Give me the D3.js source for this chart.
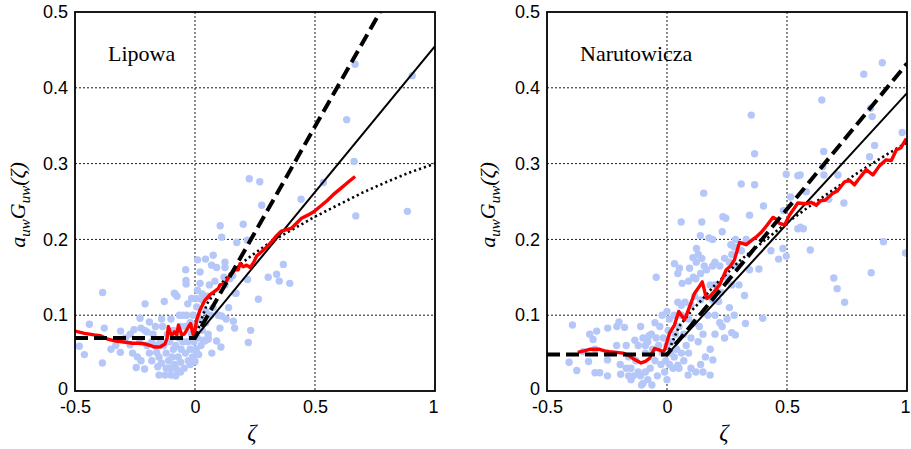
<!DOCTYPE html>
<html>
<head>
<meta charset="utf-8">
<script src="https://cdn.jsdelivr.net/npm/d3@7"></script>
<style>
  html, body { margin: 0; padding: 0; background: #fff; }
  svg { display: block; }
</style>
</head>
<body>
<svg id="chart" width="911" height="449"></svg>
<script>
// Axis ticks shared by both panels
const xTicks = [-0.5, 0, 0.5, 1];
const xTickLabels = ["-0.5", "0", "0.5", "1"];
const yTicks = [0, 0.1, 0.2, 0.3, 0.4, 0.5];
const yTickLabels = ["0", "0.1", "0.2", "0.3", "0.4", "0.5"];
const xGrid = [0, 0.5];
const yGrid = [0.1, 0.2, 0.3, 0.4];

// ---- Lipowa ----
const lipowaPoints = [
  [0.667,0.431],[0.905,0.416],[0.632,0.358],[0.663,0.303],[0.535,0.275],[0.226,0.280],[0.27,0.276],[0.278,0.245],
  [0.442,0.253],[0.67,0.231],[0.885,0.237],[0.105,0.218],[0.111,0.203],[0.201,0.220],[0.218,0.199],[0.174,0.196],
  [0.368,0.167],[0.305,0.150],[0.34,0.154],[0.351,0.145],[0.395,0.142],[0.219,0.147],[0.264,0.121],[0.168,0.129],
  [0.16,0.092],[0.165,0.083],[0.232,0.080],[0.222,0.064],[0.108,0.058],[0.09,0.066],[0.051,0.068],[0.104,0.083],[0.111,0.099],
  [0.011,0.173],[0.044,0.174],[0.076,0.179],[0.069,0.166],[0.09,0.163],[0.125,0.170],[0.125,0.163],[-0.039,0.160],
  [0.021,0.157],[-0.037,0.141],[0.021,0.142],[0.01,0.133],[0.03,0.128],[0.005,0.122],[-0.083,0.128],[-0.075,0.125],
  [-0.014,0.122],[0.007,0.111],[0.03,0.120],[0.053,0.125],[0.083,0.145],[0.121,0.150],[0.157,0.152],[0.171,0.129],
  [0.125,0.140],[0.145,0.148],[0.06,0.14],[0.097,0.1],[0.14,0.11],[0.075,0.11],[0.045,0.105],[0.13,0.095],
  [-0.385,0.130],[-0.44,0.088],[-0.378,0.083],[-0.482,0.059],[-0.461,0.048],[-0.386,0.037],[-0.31,0.079],[-0.311,0.051],
  [-0.271,0.061],[-0.254,0.081],[-0.229,0.096],[-0.208,0.115],[-0.225,0.083],[-0.21,0.08],[-0.2,0.078],[-0.19,0.091],
  [-0.24,0.045],[-0.225,0.04],[-0.245,0.031],[-0.21,0.029],[-0.18,0.04],[-0.17,0.06],[-0.16,0.051],[-0.15,0.045],
  [-0.14,0.037],[-0.155,0.032],[-0.15,0.021],[-0.125,0.021],[-0.1,0.021],[-0.128,0.118],[-0.086,0.129],[-0.0375,0.146],
  [-0.139,0.095],[-0.135,0.085],
  [-0.12,0.05],[-0.11,0.04],[-0.1,0.03],[-0.095,0.045],[-0.09,0.055],[-0.085,0.035],[-0.08,0.06],[-0.075,0.028],
  [-0.07,0.045],[-0.065,0.07],[-0.06,0.038],[-0.058,0.055],[-0.05,0.1],[-0.05,0.065],[-0.045,0.03],[-0.04,0.085],
  [-0.04,0.05],[-0.035,0.1],[-0.03,0.065],[-0.028,0.04],[-0.02,0.09],[-0.02,0.055],[-0.015,0.075],[-0.01,0.045],
  [-0.008,0.1],[-0.005,0.065],[0,0.039],[0,0.085],[0.005,0.055],[0.01,0.07],[0.015,0.048],[0.02,0.095],[0.025,0.06],
  [0.03,0.08],[0.035,0.067],[0.04,0.066],[0.045,0.09],[0.004,0.052],[0.055,0.075],[0.056,0.069],[0.065,0.1],[0.07,0.05],
  [-0.115,0.075],[-0.105,0.065],[-0.1,0.095],[-0.13,0.06],[-0.12,0.03],[-0.065,0.1],[-0.03,0.115],[-0.06,0.085],
  [-0.09,0.08],[-0.145,0.065],[-0.175,0.075],[-0.165,0.085],[-0.29,0.07],[-0.33,0.06],[-0.35,0.055],[-0.27,0.075],
  [-0.26,0.05],[-0.2,0.06],[-0.19,0.05],[-0.18,0.065],[-0.23,0.065],[-0.11,0.03],[-0.08,0.02],[-0.06,0.025],[-0.02,0.035]
];
const lipowaMean = [
  [-0.5,0.079],[-0.46,0.076],[-0.42,0.074],[-0.396,0.073],[-0.36,0.068],[-0.33,0.066],[-0.305,0.065],[-0.26,0.063],
  [-0.23,0.063],[-0.208,0.062],[-0.185,0.06],[-0.167,0.058],[-0.146,0.058],[-0.125,0.062],[-0.116,0.07],[-0.111,0.085],
  [-0.104,0.078],[-0.097,0.073],[-0.085,0.078],[-0.076,0.074],[-0.069,0.087],[-0.062,0.08],[-0.055,0.074],[-0.045,0.075],
  [-0.035,0.08],[-0.025,0.086],[-0.018,0.089],[-0.012,0.08],[-0.007,0.074],[0,0.08],[0.007,0.094],[0.021,0.107],
  [0.032,0.114],[0.042,0.12],[0.0625,0.127],[0.08,0.131],[0.097,0.135],[0.104,0.14],[0.125,0.142],[0.146,0.153],
  [0.167,0.16],[0.18,0.16],[0.1875,0.168],[0.201,0.164],[0.215,0.166],[0.23,0.163],[0.245,0.17],[0.257,0.178],
  [0.275,0.183],[0.299,0.19],[0.32,0.197],[0.34,0.205],[0.36,0.211],[0.382,0.213],[0.403,0.215],[0.425,0.222],
  [0.444,0.228],[0.47,0.232],[0.493,0.236],[0.52,0.243],[0.55,0.251],[0.576,0.259],[0.61,0.268],[0.64,0.276],[0.667,0.283]
];
const lipowaDashed = [[-0.5,0.07],[0,0.07],[0.771,0.5]];
const lipowaSolid = [[0,0.07],[1,0.455]];
const lipowaDotted = [
  [0,0.07],[0.05,0.115],[0.1,0.138],[0.15,0.156],[0.2,0.17],[0.25,0.182],[0.3,0.193],[0.35,0.203],
  [0.4,0.212],[0.5,0.23],[0.6,0.246],[0.7,0.262],[0.8,0.276],[0.9,0.289],[1,0.30]
];

// ---- Narutowicza ----
const narutPoints = [
  [0.897,0.433],[0.82,0.418],[0.645,0.384],[0.351,0.364],[0.848,0.373],[0.855,0.362],[0.865,0.324],[0.98,0.341],
  [0.365,0.313],[0.653,0.316],[0.649,0.296],[0.844,0.309],[0.309,0.273],[0.365,0.272],[0.497,0.286],[0.545,0.284],
  [0.555,0.285],[0.654,0.285],[0.712,0.285],[0.515,0.256],[0.58,0.263],[0.674,0.253],[0.737,0.248],[0.485,0.238],
  [0.545,0.214],[0.556,0.216],[0.568,0.214],[0.597,0.186],[0.483,0.188],[0.465,0.174],[0.497,0.178],[0.433,0.185],
  [0.383,0.161],[0.344,0.160],[0.402,0.244],[0.344,0.232],[0.233,0.230],[0.245,0.228],[0.266,0.193],[0.059,0.223],
  [0.145,0.223],[0.139,0.205],[0.175,0.202],[0.153,0.261],[0.123,0.188],[0.323,0.126],[0.327,0.089],[0.399,0.096],
  [0.28,0.1],[0.285,0.074],[0.27,0.077],[0.191,0.041],[0.15,0.025],[0.18,0.021],[0.709,0.135],[0.695,0.149],
  [0.74,0.117],[0.851,0.156],[0.902,0.197],[0.994,0.182],
  [-0.394,0.087],[-0.322,0.075],[-0.293,0.079],[-0.247,0.083],[-0.209,0.085],[-0.2,0.091],[-0.177,0.084],[-0.308,0.068],
  [-0.134,0.067],[-0.408,0.038],[-0.376,0.027],[-0.327,0.039],[-0.3,0.024],[-0.28,0.024],[-0.248,0.041],[-0.248,0.020],
  [-0.193,0.022],[-0.106,0.008],[-0.063,0.008],[-0.195,0.035],[-0.17,0.03],[-0.16,0.02],[-0.15,0.015],[-0.21,0.06],
  [-0.3,0.055],[-0.35,0.052],[-0.09,0.06],[-0.075,0.073],
  [-0.12,0.06],[-0.1,0.07],[-0.09,0.05],[-0.08,0.065],[-0.07,0.03],[-0.065,0.075],[-0.06,0.055],[-0.05,0.04],
  [-0.045,0.07],[-0.04,0.02],[-0.035,0.06],[-0.03,0.085],[-0.025,0.035],[-0.02,0.05],[-0.015,0.07],[-0.01,0.025],
  [-0.005,0.04],[0,0.06],[0,0.015],[0.005,0.08],[0.01,0.035],[0.015,0.05],[0.02,0.065],[0.025,0.03],[0.03,0.045],
  [0.035,0.075],[0.04,0.055],[0.05,0.03],[0.06,0.05],[0.07,0.04],[0.08,0.06],[0.09,0.05],[0.1,0.03],
  [-0.15,0.03],[-0.14,0.02],[-0.13,0.04],[-0.11,0.02],[-0.1,0.01],[-0.08,0.015],[-0.09,0.025],[-0.12,0.025],
  [-0.16,0.045],[-0.17,0.06],[-0.11,0.085],[-0.05,0.09],[-0.02,0.1],[0.01,0.095],[0.03,0.1],[0,0.105],
  [0.031,0.168],[0.052,0.162],[0.045,0.155],[0.063,0.142],[0.094,0.162],[0.108,0.176],[0.122,0.17],[0.13,0.18],
  [0.145,0.175],[0.155,0.165],[0.11,0.15],[0.09,0.145],[0.12,0.148],[0.14,0.155],[0.165,0.16],[0.19,0.165],
  [0.2,0.17],[0.22,0.165],[0.24,0.175],[0.26,0.17],[0.27,0.18],[0.28,0.19],[0.285,0.2],[-0.045,0.15],
  [0.045,0.117],[0.06,0.113],[0.075,0.117],[0.1,0.113],[0.115,0.125],[0.14,0.12],[0.165,0.125],[0.19,0.12],
  [0.215,0.118],[0.225,0.13],[0.06,0.1],[0.09,0.095],[0.115,0.09],[0.135,0.085],[0.17,0.1],[0.2,0.1],
  [0.22,0.09],[0.25,0.095],[0.23,0.085],[0.2,0.075],[0.24,0.07],[0.05,0.085],[0.07,0.075],[0.1,0.07],
  [0.13,0.065],[0.15,0.075],[0.045,0.034],[0.088,0.021],[0.12,0.025],[0.14,0.035],[0.16,0.045],[0.18,0.055],
  [0.26,0.11],[0.3,0.14],[0.29,0.165],[0.31,0.185],[0.33,0.2],[0.27,0.14],[0.2,0.14],[0.25,0.15],
  [0.18,0.14],[0.23,0.21],[0.19,0.2]
];
const narutMean = [
  [-0.372,0.051],[-0.345,0.053],[-0.323,0.055],[-0.3,0.055],[-0.281,0.055],[-0.26,0.053],[-0.24,0.052],[-0.21,0.051],
  [-0.184,0.05],[-0.16,0.047],[-0.142,0.043],[-0.125,0.04],[-0.108,0.037],[-0.09,0.039],[-0.073,0.043],[-0.062,0.05],
  [-0.052,0.056],[-0.04,0.055],[-0.031,0.054],[-0.02,0.052],[-0.01,0.054],[0.0104,0.076],[0.031,0.087],[0.049,0.105],
  [0.06,0.1],[0.073,0.094],[0.094,0.111],[0.115,0.129],[0.135,0.138],[0.147,0.144],[0.158,0.13],[0.166,0.122],
  [0.18,0.125],[0.191,0.129],[0.219,0.14],[0.247,0.16],[0.265,0.165],[0.281,0.173],[0.302,0.196],[0.33,0.193],
  [0.358,0.2],[0.375,0.204],[0.392,0.209],[0.415,0.218],[0.441,0.229],[0.455,0.227],[0.469,0.221],[0.49,0.219],
  [0.51,0.232],[0.528,0.24],[0.545,0.248],[0.58,0.247],[0.6,0.249],[0.622,0.245],[0.64,0.251],[0.66,0.252],
  [0.691,0.261],[0.71,0.264],[0.74,0.276],[0.76,0.278],[0.781,0.272],[0.8,0.28],[0.83,0.292],[0.858,0.285],
  [0.885,0.297],[0.913,0.305],[0.935,0.304],[0.955,0.318],[0.975,0.321],[0.997,0.333]
];
const narutDashed = [[-0.5,0.048],[0,0.048],[1,0.432]];
const narutSolid = [[0,0.048],[1,0.393]];
const narutDotted = [
  [0,0.048],[0.05,0.085],[0.1,0.105],[0.15,0.122],[0.2,0.14],[0.25,0.155],[0.3,0.171],[0.4,0.197],
  [0.5,0.222],[0.6,0.245],[0.7,0.267],[0.8,0.289],[0.9,0.309],[1,0.328]
];

const panels = [
  { title: "Lipowa", left: 75, labelX: 25, points: lipowaPoints, mean: lipowaMean,
    dashed: lipowaDashed, solid: lipowaSolid, dotted: lipowaDotted },
  { title: "Narutowicza", left: 547, labelX: 495, points: narutPoints, mean: narutMean,
    dashed: narutDashed, solid: narutSolid, dotted: narutDotted }
];

const svg = d3.select("#chart");
const plotW = 360, plotTop = 12, plotBottom = 391;
const tickFont = "'Liberation Sans', Arial, Helvetica, sans-serif";
const serif = "'Liberation Serif', 'Times New Roman', serif";

panels.forEach((p, pi) => {
  const x = d3.scaleLinear().domain([-0.5, 1]).range([p.left, p.left + plotW]);
  const y = d3.scaleLinear().domain([0, 0.5]).range([plotBottom, plotTop]);
  const g = svg.append("g");
  const clipId = "clip" + pi;
  svg.append("clipPath").attr("id", clipId)
    .append("rect").attr("x", p.left).attr("y", plotTop).attr("width", plotW).attr("height", plotBottom - plotTop);

  // dotted grid
  const grid = g.append("g").attr("stroke", "#000").attr("stroke-width", 0.9)
    .attr("stroke-dasharray", "2,2");
  grid.selectAll("line.gx").data(xGrid).join("line").attr("class", "gx")
    .attr("x1", d => x(d)).attr("x2", d => x(d)).attr("y1", plotTop).attr("y2", plotBottom);
  grid.selectAll("line.gy").data(yGrid).join("line").attr("class", "gy")
    .attr("y1", d => y(d)).attr("y2", d => y(d)).attr("x1", p.left).attr("x2", p.left + plotW);

  const plot = g.append("g").attr("clip-path", `url(#${clipId})`);

  // scatter
  plot.append("g").selectAll("circle").data(p.points).join("circle")
    .attr("cx", d => x(d[0])).attr("cy", d => y(d[1])).attr("r", 3.7)
    .attr("fill", "#b4c7f8");

  const line = d3.line().x(d => x(d[0])).y(d => y(d[1]));

  plot.append("path").datum(p.solid).attr("d", line)
    .attr("fill", "none").attr("stroke", "#000").attr("stroke-width", 2);
  plot.append("path").datum(p.dotted).attr("d", line)
    .attr("fill", "none").attr("stroke", "#000").attr("stroke-width", 2.6)
    .attr("stroke-dasharray", "2.2,3");
  plot.append("path").datum(p.mean).attr("d", line)
    .attr("fill", "none").attr("stroke", "#ff0000").attr("stroke-width", 3.4)
    .attr("stroke-linejoin", "round");
  plot.append("path").datum(p.dashed).attr("d", line)
    .attr("fill", "none").attr("stroke", "#000").attr("stroke-width", 4)
    .attr("stroke-dasharray", "13,6");

  // frame
  g.append("rect").attr("x", p.left).attr("y", plotTop).attr("width", plotW).attr("height", plotBottom - plotTop)
    .attr("fill", "none").attr("stroke", "#000").attr("stroke-width", 1.8);

  // axes (labels only)
  const ax = g.append("g").attr("transform", `translate(0,${plotBottom})`)
    .call(d3.axisBottom(x).tickValues(xTicks).tickFormat((d, i) => xTickLabels[i]).tickSize(0).tickPadding(9));
  const ay = g.append("g").attr("transform", `translate(${p.left},0)`)
    .call(d3.axisLeft(y).tickValues(yTicks).tickFormat((d, i) => yTickLabels[i]).tickSize(0).tickPadding(7));
  [ax, ay].forEach(a => {
    a.select(".domain").remove();
    a.selectAll("text").attr("font-family", tickFont).attr("font-size", 18).attr("fill", "#000");
  });
  ax.selectAll("text").attr("dy", "0.72em")
    .attr("dx", (d, i) => i === xTicks.length - 1 ? -2 : 0);
  ay.selectAll("text").attr("dy", (d, i) => i === 0 ? "0.2em" : "0.32em");

  // panel name
  g.append("text").attr("x", p.left + 33).attr("y", 61)
    .attr("font-family", serif).attr("font-size", 22).attr("fill", "#000").text(p.title);

  // x label
  g.append("text").attr("x", x(0.25) - 3).attr("y", 440).attr("text-anchor", "middle")
    .attr("font-family", serif).attr("font-style", "italic").attr("font-size", 23).text("ζ");

  // y label: a_uw G_uw(ζ)
  const yl = g.append("text")
    .attr("transform", `translate(${p.labelX},205) rotate(-90)`)
    .attr("text-anchor", "middle")
    .attr("font-family", serif).attr("font-style", "italic").attr("font-size", 22).attr("fill", "#000");
  yl.append("tspan").text("a");
  yl.append("tspan").attr("font-size", 15).attr("dy", 5).text("uw");
  yl.append("tspan").attr("dy", -5).text("G");
  yl.append("tspan").attr("font-size", 15).attr("dy", 5).text("uw");
  yl.append("tspan").attr("dy", -5).text("(ζ)");
});
</script>
</body>
</html>
